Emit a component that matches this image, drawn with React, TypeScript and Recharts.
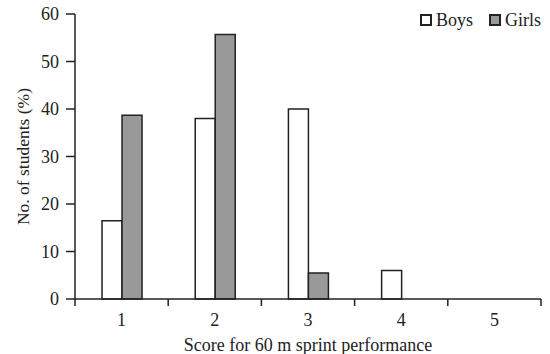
import { BarChart, Bar, XAxis, YAxis } from 'recharts'

// Puntuaciones y porcentajes
const SCORES = ['1', '2', '3', '4', '5']
const BOYS = [16.5, 38, 40, 6, 0]
const GIRLS = [38.7, 55.7, 5.5, 0, 0]
const Y_TICKS = [0, 10, 20, 30, 40, 50, 60]

const data = SCORES.map((score, i) => ({ score, boys: BOYS[i], girls: GIRLS[i] }))

const FONT = 'Liberation Serif'
const INK = '#222'

const W = 550
const H = 354
const MARGIN = { top: 14, right: 9, left: 0, bottom: 0 }
const Y_WIDTH = 75
const BAND = (W - MARGIN.left - MARGIN.right - Y_WIDTH) / SCORES.length

// Tick del eje X: etiqueta centrada, marcas en los límites de cada categoría
function ScoreTick(props: any) {
  const { x, y, payload, index } = props
  const last = index === SCORES.length - 1
  return (
    <g>
      <line x1={x - BAND / 2} x2={x - BAND / 2} y1={y} y2={y + 7} stroke={INK} strokeWidth={1.5} />
      {last && <line x1={x + BAND / 2} x2={x + BAND / 2} y1={y} y2={y + 7} stroke={INK} strokeWidth={1.5} />}
      <text x={x} y={y + 27} textAnchor="middle" fontSize={18} fontFamily={FONT} fill={INK}>
        {payload.value}
      </text>
    </g>
  )
}

const LEGEND = [
  { label: 'Boys', fill: '#fff' },
  { label: 'Girls', fill: '#999' }
]

function LegendBox() {
  return (
    <div
      style={{
        position: 'absolute',
        top: 10,
        right: 9,
        display: 'flex',
        gap: 16,
        fontFamily: FONT,
        fontSize: 18,
        lineHeight: '20px',
        color: INK
      }}
    >
      {LEGEND.map((it) => (
        <div key={it.label} style={{ display: 'flex', alignItems: 'center', gap: 4 }}>
          <span style={{ width: 8, height: 8, border: `2px solid ${INK}`, background: it.fill, display: 'inline-block' }} />
          <span>{it.label}</span>
        </div>
      ))}
    </div>
  )
}

export default function App() {
  return (
    <div style={{ position: 'absolute', left: 0, top: 0, width: W, height: H, background: '#fff' }}>
      <BarChart width={W} height={H} data={data} margin={MARGIN} barCategoryGap="29%" barGap={0}>
        <XAxis
          dataKey="score"
          height={H - 299}
          axisLine={{ stroke: INK, strokeWidth: 1.5 }}
          tickLine={false}
          tickSize={0}
          tickMargin={0}
          tick={<ScoreTick />}
          interval={0}
          label={{
            value: 'Score for 60 m sprint performance',
            position: 'insideBottom',
            offset: 3,
            fontSize: 18,
            fontFamily: FONT,
            fill: INK
          }}
        />
        <YAxis
          width={Y_WIDTH}
          domain={[0, 60]}
          ticks={Y_TICKS}
          interval={0}
          axisLine={{ stroke: INK, strokeWidth: 1.5 }}
          tickLine={{ stroke: INK, strokeWidth: 1.5 }}
          tickSize={9}
          tickMargin={7}
          tick={{ fontSize: 18, fontFamily: FONT, fill: INK }}
          label={{
            value: 'No. of students (%)',
            angle: -90,
            position: 'center',
            dx: -15,
            fontSize: 17.5,
            fontFamily: FONT,
            fill: INK
          }}
        />
        <Bar dataKey="boys" name="Boys" fill="#fff" stroke={INK} strokeWidth={1.5} isAnimationActive={false} />
        <Bar dataKey="girls" name="Girls" fill="#999" stroke={INK} strokeWidth={1.5} isAnimationActive={false} />
      </BarChart>
      <LegendBox />
    </div>
  )
}
